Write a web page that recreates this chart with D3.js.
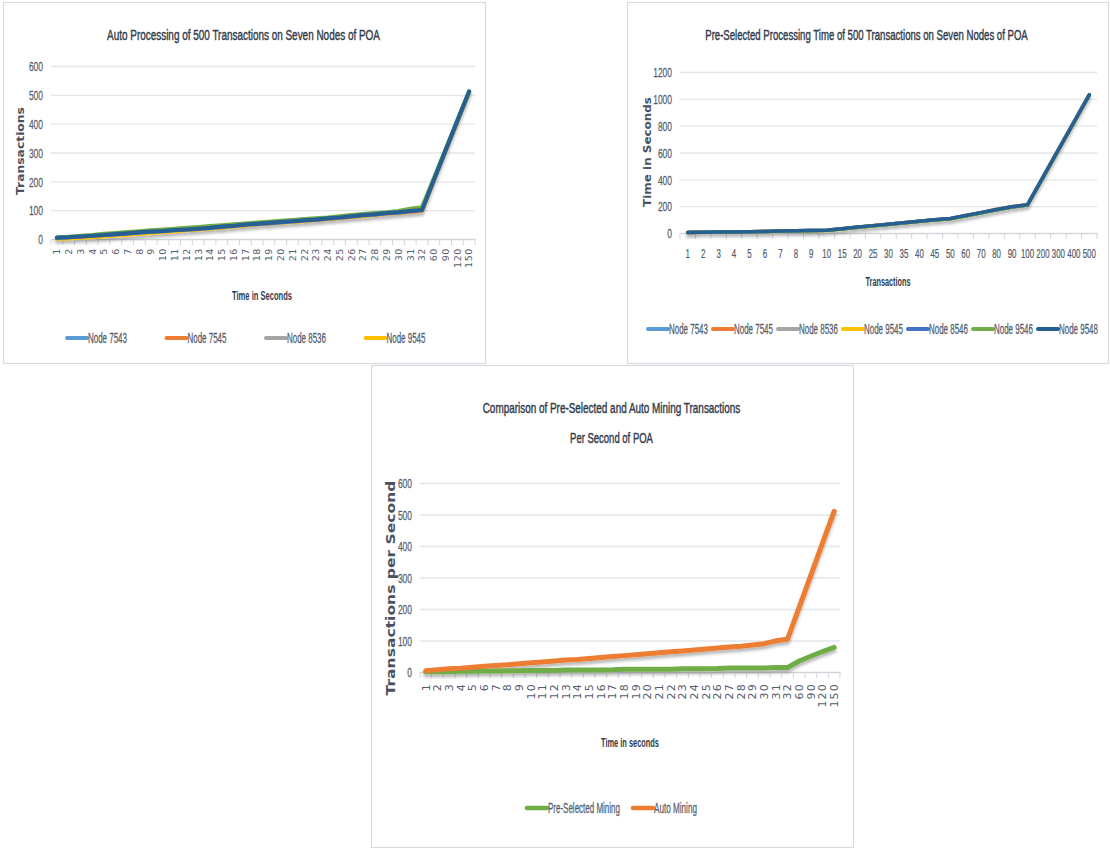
<!DOCTYPE html>
<html><head><meta charset="utf-8">
<script src="https://cdn.jsdelivr.net/npm/d3@7/dist/d3.min.js"></script>
<style>
body{margin:0;background:#fff;}
svg{display:block;}
</style></head><body>
<svg id="c" width="1110" height="855"></svg>
<script>
// ---------------- DATA ----------------
// Chart 1: Auto processing (time in seconds categories)
const autoTimes = ["1","2","3","4","5","6","7","8","9","10","11","12","13","14","15","16","17","18","19","20","21","22","23","24","25","26","27","28","29","30","31","32","60","90","120","150"];
const autoNode7543 = [4,6,8,11,13,16,19,22,24,27,30,32,35,38,41,45,48,51,54,57,60,63,67,70,74,78,82,85,89,92,96,100,204,306,409,511];
const autoNode7545 = [3,5,7,10,12,15,18,21,24,26,29,32,34,37,40,44,47,51,54,57,60,63,66,69,73,76,80,84,87,91,94,97,202,305,407,509];
const autoNode8536 = [3,5,8,10,13,16,19,22,25,27,30,33,35,38,41,45,48,52,55,58,61,64,67,70,74,77,81,85,88,92,96,100,204,306,408,510];
const autoNode9545 = [1,2,4,6,9,12,15,18,21,24,27,30,33,36,39,43,47,51,54,57,59,62,66,70,73,77,80,84,88,91,95,99,203,305,408,508];
const autoNode8546 = [4,6,9,11,14,16,19,22,25,27,30,33,35,38,42,45,49,52,55,58,61,64,67,71,74,78,82,85,89,92,96,100,203,306,408,510];
const autoNode9546 = [5,8,11,14,18,21,24,27,30,33,36,39,42,45,48,51,54,57,60,63,66,69,72,75,79,83,87,90,93,97,105,110,210,310,410,510];
const autoNode9548 = [4,6,9,11,14,17,20,23,26,28,31,33,36,39,43,46,50,53,56,59,62,65,68,72,75,79,83,86,90,93,97,101,205,308,410,512];
const autoLegend = ["Node 7543","Node 7545","Node 8536","Node 9545"];

// Chart 2: Pre-selected processing time (transactions categories)
const preTx = ["1","2","3","4","5","6","7","8","9","10","15","20","25","30","35","40","45","50","60","70","80","90","100","200","300","400","500"];
const preNode7543 = [4,6,7,8,10,12,14,16,18,20,31,43,54,65,76,87,98,107,129,151,174,194,209,414,619,824,1029];
const preNode7545 = [4,6,7,9,10,12,14,16,18,20,31,43,54,65,76,87,98,107,130,153,178,197,210,414,619,824,1029];
const preNode8536 = [3,5,7,8,10,12,14,16,18,20,31,42,54,65,76,87,97,106,129,151,174,194,209,414,619,824,1029];
const preNode9545 = [3,5,6,8,9,11,13,15,17,19,30,42,53,64,75,86,97,105,128,150,173,193,208,413,618,823,1028];
const preNode8546 = [4,6,7,8,10,12,14,16,18,20,31,43,54,65,76,87,98,107,129,151,174,194,209,414,619,824,1029];
const preNode9546 = [3,5,6,7,9,11,13,15,17,19,30,41,52,63,74,85,96,104,126,149,172,193,208,413,618,823,1028];
const preNode9548 = [4,6,7,8,10,12,14,16,18,20,32,44,55,66,77,88,99,108,130,152,175,195,210,415,620,825,1030];
const preLegend = ["Node 7543","Node 7545","Node 8536","Node 9545","Node 8546","Node 9546","Node 9548"];

// Chart 3: Comparison
const cmpTimes = ["1","2","3","4","5","6","7","8","9","10","11","12","13","14","15","16","17","18","19","20","21","22","23","24","25","26","27","28","29","30","31","32","60","90","120","150"];
const preSelectedMining = [1,1,1,2,2,3,3,4,4,5,5,5,6,6,6,6,7,9,9,9,9,9,10,10,10,11,13,13,13,13,14,14,35,50,65,78];
const autoMining = [4,7,10,12,15,18,21,23,26,29,32,35,38,40,43,46,49,52,55,58,61,64,67,70,73,76,79,82,86,90,99,104,205,307,409,510];
const cmpLegend = ["Pre-Selected Mining","Auto Mining"];

// ---------------- STYLE ----------------
const C = {
  lightBlue:"#5B9BD5", orange:"#ED7D31", gray:"#A5A5A5", yellow:"#FFC000",
  blue:"#4472C4", green:"#70AD47", darkBlue:"#255E91"
};
const FN = "'Liberation Sans',Arial,sans-serif";
const FW = "'DejaVu Sans',Verdana,sans-serif";
const TXT = "#343C4C", TICK = "#555D6C", GRID = "#E3E6EB", AXIS = "#D2D6DC";

const svg = d3.select("#c");
const defs = svg.append("defs");
defs.append("filter").attr("id","sh").attr("x","-5%").attr("y","-5%").attr("width","110%").attr("height","120%")
  .append("feDropShadow").attr("dx",0).attr("dy",3).attr("stdDeviation",1.6)
  .attr("flood-color","#000").attr("flood-opacity",0.28);

// text squeezed horizontally to a target width (glyphs stay full height)
function fitText(g, x, y, str, target, o){
  const t = g.append("text").attr("x",0).attr("y",0)
    .attr("text-anchor",o.anchor||"middle").attr("dominant-baseline","central")
    .attr("fill",o.fill||TXT).style("font-family",o.font||FN).style("font-size",o.size+"px")
    .style("font-weight",o.weight||"normal").text(str);
  if(o.stroke){ t.attr("stroke",o.fill||TXT).attr("stroke-width",o.stroke); }
  const w = t.node().getComputedTextLength();
  const k = w>0 ? target/w : 1;
  t.attr("transform",`translate(${x},${y})${o.rotate?" rotate(-90)":""} scale(${k},1)`);
  return t;
}
function squeezeTicks(sel, perChar){
  sel.each(function(){
    const w = this.getComputedTextLength();
    const k = w>0 ? (this.textContent.length*perChar)/w : 1;
    const x0 = +this.getAttribute("x")||0;
    d3.select(this).attr("transform",`translate(${x0},0) scale(${k},1) translate(${-x0},0)`);
  });
}

function drawChart(cfg){
  const g = svg.append("g");
  const [px,py,pw,ph] = cfg.panel;
  g.append("rect").attr("x",px+0.5).attr("y",py+0.5).attr("width",pw).attr("height",ph)
    .attr("fill","#fff").attr("stroke","#D8DCE2").attr("stroke-width",1.2);

  const {x0,x1,y0,y1} = cfg.plot;
  const x = d3.scaleBand().domain(cfg.cats).range([x0,x1]);
  const y = d3.scaleLinear().domain([0,cfg.ymax]).range([y0,y1]);

  // y axis + gridlines
  const ya = g.append("g").attr("transform",`translate(${x0},0)`)
    .call(d3.axisLeft(y).tickValues(d3.range(0,cfg.ymax+1,cfg.ystep)).tickFormat(d3.format("d"))
      .tickSize(-(x1-x0)).tickPadding(cfg.ypad));
  ya.select(".domain").remove();
  ya.selectAll(".tick line").attr("stroke",d=>d===0?"none":GRID).attr("stroke-width",1.3);
  const yt = ya.selectAll(".tick text").attr("fill",TICK).attr("dy","0.35em")
    .attr("stroke",TICK).attr("stroke-width",0.25)
    .style("font-family",FN).style("font-size",cfg.yfs+"px");
  squeezeTicks(yt, cfg.ypc);

  // x axis
  const xa = g.append("g").attr("transform",`translate(0,${y0})`).call(d3.axisBottom(x).tickSize(0));
  xa.select(".domain").attr("stroke",AXIS).attr("stroke-width",1.3);
  const bounds = cfg.cats.map(c=>x(c)).concat([x1]);
  g.append("g").selectAll("line").data(bounds).join("line")
    .attr("x1",d=>d).attr("x2",d=>d).attr("y1",y0).attr("y2",y0+6)
    .attr("stroke",AXIS).attr("stroke-width",1);
  const xt = xa.selectAll(".tick text").attr("fill",TICK);
  if(cfg.rotate){
    xt.attr("transform","rotate(-90)").attr("x",-cfg.xoff).attr("y",0).attr("dy","0.35em")
      .attr("text-anchor","end").style("font-family",FW).style("font-size",cfg.xfs+"px")
      .style("letter-spacing",cfg.xls+"px");
  } else {
    xt.attr("y",cfg.xoff).attr("dy","0.71em").attr("stroke",TICK).attr("stroke-width",0.25)
      .style("font-family",FN).style("font-size",cfg.xfs+"px");
    squeezeTicks(xt, cfg.xpc);
  }

  // lines
  const line = d3.line().x((d,i)=>x(cfg.cats[i])+x.bandwidth()/2).y(d=>y(d));
  g.append("g").attr("filter","url(#sh)").selectAll("path").data(cfg.series).join("path")
    .attr("d",s=>line(s.values)).attr("fill","none").attr("stroke",s=>s.color)
    .attr("stroke-width",cfg.lw).attr("stroke-linejoin","round").attr("stroke-linecap","round");

  // titles
  cfg.title.forEach(t=>fitText(g,t[0],t[1],t[2],t[3],{size:15.5,fill:TXT,stroke:0.45}));
  const xtl = cfg.xTitle;
  fitText(g,xtl[0],xtl[1],xtl[2],xtl[3],{size:13,weight:"bold",fill:TXT});
  const ytl = cfg.yTitle;
  fitText(g,ytl[0],ytl[1],ytl[2],ytl[3],{size:ytl[4],weight:"bold",font:FW,fill:"#4A5160",rotate:true});

  // legend
  const L = cfg.legend;
  L.items.forEach((it,i)=>{
    const lx = L.x + i*L.dx;
    g.append("line").attr("x1",lx).attr("x2",lx+L.sw).attr("y1",L.y).attr("y2",L.y)
      .attr("stroke",it.color).attr("stroke-width",L.lw).attr("stroke-linecap","round");
    fitText(g,lx+L.sw+1,L.y,it.name,it.tl,{size:14,anchor:"start",fill:TICK,stroke:0.25});
  });
}

// Chart 1
drawChart({
  panel:[3,2,482,361],
  cats:autoTimes, plot:{x0:51,x1:475,y0:239,y1:66}, ymax:600, ystep:100, ypad:8, yfs:13.5, ypc:4.7,
  rotate:true, xoff:9, xfs:9.5, xls:0.6, lw:4,
  series:[
    {values:autoNode7543,color:C.lightBlue},{values:autoNode7545,color:C.orange},
    {values:autoNode8536,color:C.gray},{values:autoNode9545,color:C.yellow},
    {values:autoNode8546,color:C.blue},{values:autoNode9546,color:C.green},
    {values:autoNode9548,color:C.darkBlue}],
  title:[[243.5,35,"Auto Processing of 500 Transactions on Seven Nodes of POA",273]],
  xTitle:[262,295,"Time in Seconds",60],
  yTitle:[20,151,"Transactions",88,11],
  legend:{x:67,y:338,dx:99.5,sw:20,lw:4,items:autoLegend.map((n,i)=>({name:n,tl:39,color:[C.lightBlue,C.orange,C.gray,C.yellow][i]}))}
});

// Chart 2
drawChart({
  panel:[627,2,481,361],
  cats:preTx, plot:{x0:680,x1:1097,y0:233,y1:72}, ymax:1200, ystep:200, ypad:8, yfs:13.5, ypc:4.7,
  rotate:false, xoff:16, xfs:13, xpc:4.4, lw:3.5,
  series:[
    {values:preNode7543,color:C.lightBlue},{values:preNode7545,color:C.orange},
    {values:preNode8536,color:C.gray},{values:preNode9545,color:C.yellow},
    {values:preNode8546,color:C.blue},{values:preNode9546,color:C.green},
    {values:preNode9548,color:C.darkBlue}],
  title:[[866.5,35,"Pre-Selected Processing Time of 500 Transactions on Seven Nodes of POA",323]],
  xTitle:[888,281,"Transactions",45],
  yTitle:[647,152,"Time in Seconds",110,11],
  legend:{x:648,y:329,dx:65,sw:20,lw:4,items:preLegend.map((n,i)=>({name:n,tl:39,color:[C.lightBlue,C.orange,C.gray,C.yellow,C.blue,C.green,C.darkBlue][i]}))}
});

// Chart 3
drawChart({
  panel:[371,365,482,482],
  cats:cmpTimes, plot:{x0:420,x1:840,y0:672,y1:483}, ymax:600, ystep:100, ypad:8, yfs:13.5, ypc:4.7,
  rotate:true, xoff:11, xfs:11, xls:1.2, lw:5,
  series:[{values:preSelectedMining,color:C.green},{values:autoMining,color:C.orange}],
  title:[[611.5,408,"Comparison of Pre-Selected and Auto Mining Transactions",258],[611.5,438,"Per Second of POA",83]],
  xTitle:[630,742,"Time in seconds",58],
  yTitle:[391,588,"Transactions per Second",215,12.5],
  legend:{x:527,y:808,dx:106,sw:20,lw:4.5,items:[
    {name:cmpLegend[0],tl:72,color:C.green},{name:cmpLegend[1],tl:43,color:C.orange}]}
});
</script>
</body></html>
